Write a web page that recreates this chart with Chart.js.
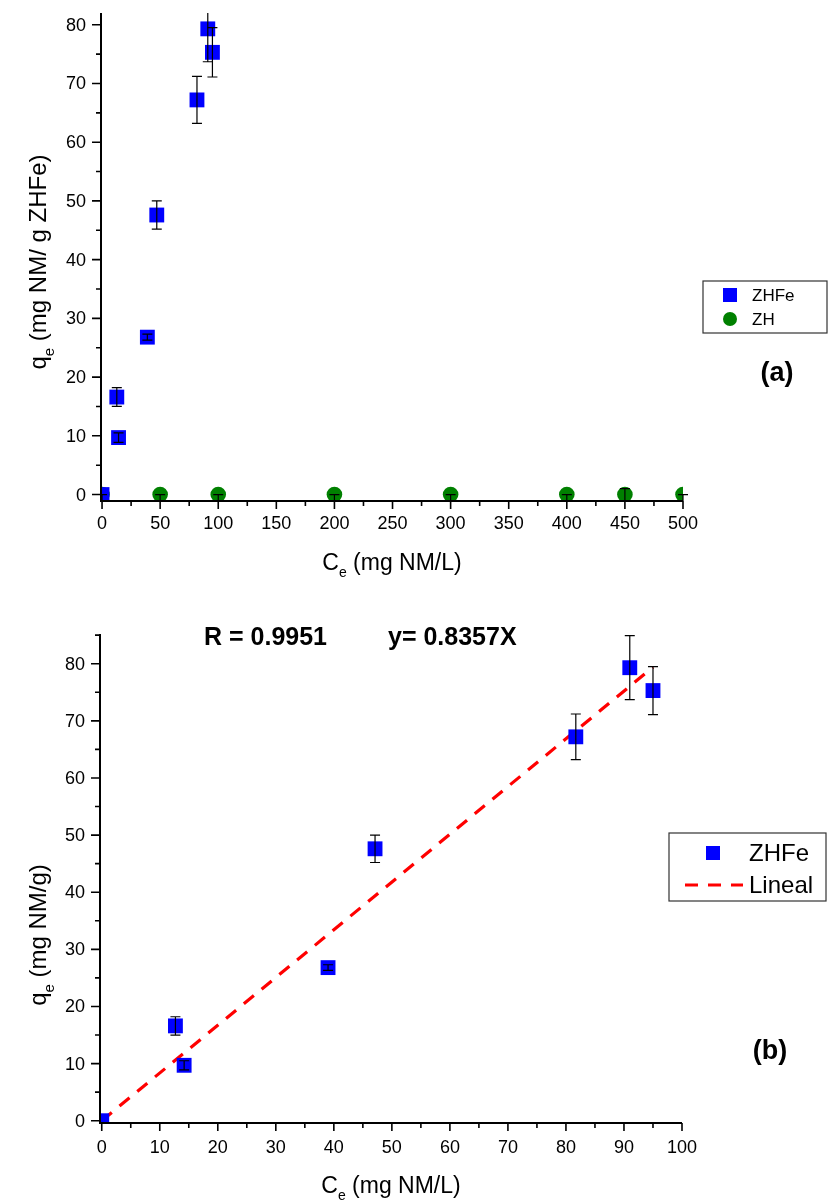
<!DOCTYPE html>
<html><head><meta charset="utf-8">
<script src="https://cdn.jsdelivr.net/npm/chart.js@4.4.0/dist/chart.umd.min.js"></script>
<style>
html,body{margin:0;padding:0;background:#fff;width:832px;height:1201px;overflow:hidden}
#wa{position:absolute;left:0;top:0;width:832px;height:600px}
#wb{position:absolute;left:0;top:600px;width:832px;height:601px}
</style></head><body>
<div id="wa"><canvas id="ca"></canvas></div>
<div id="wb"><canvas id="cb"></canvas></div>
<script>
// ---- data ----
const ceZHFe  = [0, 12.7, 14.2, 39, 47.1, 81.7, 91, 95];
const qeZHFe  = [0, 16.6, 9.7, 26.8, 47.6, 67.2, 79.3, 75.3];
const errZHFe = [0, 1.6, 0.8, 0.5, 2.4, 4.0, 5.6, 4.2];
const ceZH    = [0, 50, 100, 200, 300, 400, 450, 500];
const qeZH    = [0, 0, 0, 0, 0, 0, 0, 0];
const errUpZH   = [0, 0, 0, 0, 0, 0, 1.0, 0];
const errDownZH = [1.6, 1.6, 1.6, 1.6, 1.6, 1.6, 1.6, 1.6];
const fitX = [0, 95];
const fitY = [0, 79.39];
const xTicksA = [0, 50, 100, 150, 200, 250, 300, 350, 400, 450, 500];
const yTicksA = [0, 10, 20, 30, 40, 50, 60, 70, 80];
const xTicksB = [0, 10, 20, 30, 40, 50, 60, 70, 80, 90, 100];
const yTicksB = [0, 10, 20, 30, 40, 50, 60, 70, 80];
const fitLabel = ['R = 0.9951', 'y= 0.8357X'];

const FONT = '"Liberation Sans", Arial, sans-serif';
const pts = (xs, ys) => xs.map((x, i) => ({x: x, y: ys[i]}));

function makePlugin(o) {
  return {
    id: 'custom_' + o.name,
    afterDatasetsDraw(chart) {
      const ctx = chart.ctx, xs = chart.scales.x, ys = chart.scales.y, ca = chart.chartArea;
      // error bars
      ctx.save();
      ctx.beginPath(); ctx.rect(ca.left, ca.top, ca.right - ca.left + 20, ca.bottom - ca.top); ctx.clip();
      ctx.strokeStyle = '#000'; ctx.lineWidth = 1.2;
      o.errors.forEach(e => {
        e.x.forEach((xv, i) => {
          const up = e.up[i], dn = e.down[i];
          if (up === 0 && dn === 0) return;
          const px = xs.getPixelForValue(xv);
          const yt = ys.getPixelForValue(e.y[i] + up), yb = ys.getPixelForValue(e.y[i] - dn);
          ctx.beginPath();
          ctx.moveTo(px, yt); ctx.lineTo(px, yb);
          ctx.moveTo(px - 5, yt); ctx.lineTo(px + 5, yt);
          ctx.moveTo(px - 5, yb); ctx.lineTo(px + 5, yb);
          ctx.stroke();
        });
      });
      ctx.restore();
      // axes
      ctx.save();
      ctx.strokeStyle = '#000'; ctx.fillStyle = '#000';
      ctx.lineWidth = 2;
      ctx.beginPath();
      ctx.moveTo(ca.left, ca.top); ctx.lineTo(ca.left, ca.bottom); ctx.lineTo(ca.right, ca.bottom);
      ctx.stroke();
      ctx.lineWidth = 1.6;
      ctx.beginPath();
      o.xMinor.forEach(v => { const p = xs.getPixelForValue(v); ctx.moveTo(p, ca.bottom); ctx.lineTo(p, ca.bottom + 5); });
      o.xTicks.forEach(v => { const p = xs.getPixelForValue(v); ctx.moveTo(p, ca.bottom); ctx.lineTo(p, ca.bottom + 8); });
      o.yMinor.forEach(v => { const p = ys.getPixelForValue(v); ctx.moveTo(ca.left, p); ctx.lineTo(ca.left - 5, p); });
      o.yTicks.forEach(v => { const p = ys.getPixelForValue(v); ctx.moveTo(ca.left, p); ctx.lineTo(ca.left - 9, p); });
      ctx.stroke();
      ctx.font = '18px ' + FONT;
      ctx.textAlign = 'right'; ctx.textBaseline = 'middle';
      o.yTicks.forEach(v => ctx.fillText(String(v), ca.left - 15, ys.getPixelForValue(v) + 1));
      ctx.textAlign = 'center';
      o.xTicks.forEach(v => ctx.fillText(String(v), xs.getPixelForValue(v), ca.bottom + o.xLabOff));
      // x title
      drawSubTitle(ctx, 'C', 'e', ' (mg NM/L)', (ca.left + ca.right) / 2, ca.bottom + o.xTitleOff, 0, 23);
      // y title
      drawSubTitle(ctx, 'q', 'e', o.yTitleRest, 38, o.yTitleY, -Math.PI / 2, o.yTitleSize);
      // panel tag
      ctx.font = 'bold 27px ' + FONT; ctx.textAlign = 'center'; ctx.textBaseline = 'middle';
      ctx.fillText(o.tag, o.tagX, o.tagY);
      if (o.extra) o.extra(ctx, chart);
      // legend
      const L = o.legend;
      ctx.lineWidth = 1.2; ctx.strokeStyle = '#333';
      ctx.strokeRect(L.x, L.y, L.w, L.h);
      ctx.font = L.font + 'px ' + FONT; ctx.textAlign = 'left'; ctx.textBaseline = 'middle';
      L.items.forEach((it, i) => {
        const cy = L.y + L.first + i * L.step;
        const ds = chart.data.datasets[it.ds];
        if (it.kind === 'line') {
          ctx.save(); ctx.strokeStyle = ds.borderColor; ctx.lineWidth = 3; ctx.setLineDash([13, 10]);
          ctx.beginPath(); ctx.moveTo(L.symX - 28, cy); ctx.lineTo(L.symX + 30, cy); ctx.stroke(); ctx.restore();
        } else {
          ctx.fillStyle = ds.backgroundColor;
          if (ds.pointStyle === 'circle') { ctx.beginPath(); ctx.arc(L.symX, cy, L.sym / 2, 0, 2 * Math.PI); ctx.fill(); }
          else ctx.fillRect(L.symX - L.sym / 2, cy - L.sym / 2, L.sym, L.sym);
        }
        ctx.fillStyle = '#000';
        ctx.fillText(ds.label, L.textX, cy + 1);
      });
      ctx.restore();
    }
  };
}

function drawSubTitle(ctx, main, sub, rest, cx, cy, rot, size) {
  const ss = Math.round(size * 0.62);
  ctx.save();
  ctx.translate(cx, cy); ctx.rotate(rot);
  ctx.fillStyle = '#000'; ctx.textBaseline = 'alphabetic'; ctx.textAlign = 'left';
  ctx.font = size + 'px ' + FONT; const w1 = ctx.measureText(main).width;
  ctx.font = ss + 'px ' + FONT; const w2 = ctx.measureText(sub).width;
  ctx.font = size + 'px ' + FONT; const w3 = ctx.measureText(rest).width;
  let x = -(w1 + w2 + w3) / 2; const base = size * 0.35;
  ctx.fillText(main, x, base); x += w1;
  ctx.font = ss + 'px ' + FONT; ctx.fillText(sub, x, base + size * 0.3); x += w2;
  ctx.font = size + 'px ' + FONT; ctx.fillText(rest, x, base);
  ctx.restore();
}

function range(a, b, s) { const r = []; for (let v = a; v <= b + 1e-9; v += s) r.push(Math.round(v * 100) / 100); return r; }

Chart.defaults.font.family = FONT;
Chart.defaults.animation = false;

const baseOpts = (pad, xmin, xmax, ymin, ymax) => ({
  responsive: true, maintainAspectRatio: false, animation: false,
  layout: {padding: pad},
  plugins: {legend: {display: false}, tooltip: {enabled: false}},
  scales: {
    x: {type: 'linear', display: false, min: xmin, max: xmax},
    y: {type: 'linear', display: false, min: ymin, max: ymax}
  }
});

// ---- chart (a) ----
new Chart(document.getElementById('ca'), {
  type: 'scatter',
  data: {datasets: [
    {label: 'ZHFe', data: pts(ceZHFe, qeZHFe), pointStyle: 'rect', pointRadius: 10.5, backgroundColor: '#0000ff', borderColor: '#0000ff', borderWidth: 0},
    {label: 'ZH', data: pts(ceZH, qeZH), pointStyle: 'circle', pointRadius: 7.8, backgroundColor: '#008000', borderColor: '#008000', borderWidth: 0}
  ]},
  options: baseOpts({left: 101, right: 149, top: 13, bottom: 99}, -0.9, 500, -1.1, 82),
  plugins: [makePlugin({
    name: 'a',
    errors: [{x: ceZHFe, y: qeZHFe, up: errZHFe, down: errZHFe}, {x: ceZH, y: qeZH, up: errUpZH, down: errDownZH}],
    xTicks: xTicksA, xMinor: range(25, 475, 50), yTicks: yTicksA, yMinor: range(5, 75, 10),
    xLabOff: 23, xTitleOff: 61, yTitleRest: ' (mg NM/ g ZHFe)', yTitleY: 262, yTitleSize: 24,
    tag: '(a)', tagX: 777, tagY: 374,
    legend: {x: 703, y: 281, w: 124, h: 52, font: 17, first: 14, step: 24, symX: 730, sym: 14, textX: 752,
      items: [{ds: 0}, {ds: 1}]}
  })]
});

// ---- chart (b) ----
new Chart(document.getElementById('cb'), {
  type: 'scatter',
  data: {datasets: [
    {label: 'ZHFe', data: pts(ceZHFe, qeZHFe), pointStyle: 'rect', pointRadius: 10.5, backgroundColor: '#0000ff', borderColor: '#0000ff', borderWidth: 0},
    {label: 'Lineal', data: pts(fitX, fitY), showLine: true, pointRadius: 0, borderColor: '#ff0000', backgroundColor: '#ff0000', borderWidth: 3.2, borderDash: [13, 10]}
  ]},
  options: baseOpts({left: 100, right: 150, top: 34, bottom: 78}, -0.3, 100, -0.4, 85.2),
  plugins: [makePlugin({
    name: 'b',
    errors: [{x: ceZHFe, y: qeZHFe, up: errZHFe, down: errZHFe}],
    xTicks: xTicksB, xMinor: range(5, 95, 10), yTicks: yTicksB, yMinor: range(5, 85, 10),
    xLabOff: 25, xTitleOff: 62, yTitleRest: ' (mg NM/g)', yTitleY: 335, yTitleSize: 24,
    tag: '(b)', tagX: 770, tagY: 452,
    legend: {x: 669, y: 233, w: 157, h: 68, font: 24, first: 20, step: 32, symX: 713, sym: 14, textX: 749,
      items: [{ds: 0}, {ds: 1, kind: 'line'}]},
    extra: (ctx) => {
      ctx.font = 'bold 25px ' + FONT; ctx.textAlign = 'left'; ctx.textBaseline = 'middle';
      ctx.fillText(fitLabel[0], 204, 38);
      ctx.fillText(fitLabel[1], 388, 38);
    }
  })]
});
</script>
</body></html>
